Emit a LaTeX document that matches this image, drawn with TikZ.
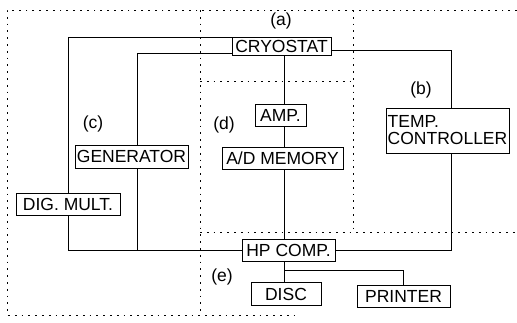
\documentclass[tikz,border=0pt]{standalone}
\usepackage{fontspec}
\setmainfont{Liberation Sans}
\tikzset{
  unit/.style={draw,line width=0.8pt,inner sep=1pt,font=\fontsize{17.5}{17}\selectfont},
  tag/.style={font=\fontsize{17.5}{18}\selectfont},
  frame/.style={line width=0.8pt,dash pattern=on 1.8pt off 5pt},
  wire/.style={line width=0.8pt}
}
\begin{document}
\begin{tikzpicture}[x=1pt,y=-1pt]
  \useasboundingbox (0,0) rectangle (517,322);
  % dotted frames of the sub-systems
  \draw[frame] (517,10) -- (7,10) -- (7,315) -- (300,315);
  \draw[frame] (200,10) -- (200,315);
  \draw[frame] (353,10) -- (353,232);
  \draw[frame] (200,81) -- (353,81);
  \draw[frame] (200,232) -- (517,232);

  % units
  \node[unit,minimum width=99pt,minimum height=18pt] (cryo) at (281.5,46) {CRYOSTAT};
  \node[unit,minimum width=51pt,minimum height=22pt] (amp) at (280.5,115) {AMP.};
  \node[unit,minimum width=121pt,minimum height=22pt] (mem) at (282.5,158) {A/D MEMORY};
  \node[unit,minimum width=113pt,minimum height=23pt] (gen) at (131.5,156.5) {GENERATOR};
  \node[unit,minimum width=104pt,minimum height=22pt] (dig) at (68,204) {DIG. MULT.};
  \node[unit,minimum width=123pt,minimum height=45pt,align=left] (temp) at (447.5,130.5) {TEMP.\\CONTROLLER};
  \node[unit,minimum width=93pt,minimum height=22pt] (hp) at (288.5,250) {HP COMP.};
  \node[unit,minimum width=70pt,minimum height=23pt] (disc) at (286,294) {DISC};
  \node[unit,minimum width=93pt,minimum height=22pt] (printer) at (403.5,296) {PRINTER};

  % labels
  \node[tag] (la) at (281,21) {(a)};
  \node[tag] (lb) at (421,90) {(b)};
  \node[tag] (lc) at (93,124) {(c)};
  \node[tag] (ld) at (224,125) {(d)};
  \node[tag] (le) at (222,277) {(e)};

  % connections
  \coordinate (spine) at (284,0);
  \coordinate (branch) at (284,270);
  \draw[wire] ([yshift=-1pt]cryo.north west) -| (dig.north);
  \draw[wire] ([yshift=2pt]cryo.south west) -| ([xshift=5.5pt]gen.north);
  \draw[wire] ([yshift=-4pt]cryo.east) -| ([xshift=4pt]temp.north);
  \draw[wire] (spine |- cryo.south) -- (spine |- amp.north);
  \draw[wire] (spine |- amp.south) -- (spine |- mem.north);
  \draw[wire] (spine |- mem.south) -- (spine |- hp.north);
  \draw[wire] (dig.south) |- (hp.west);
  \draw[wire] ([xshift=5.5pt]gen.south) -- ([xshift=5.5pt]gen.south |- hp.west);
  \draw[wire] ([xshift=4pt]temp.south) |- (hp.east);
  \draw[wire] (spine |- hp.south) -- (spine |- disc.north);
  \draw[wire] (branch) -| (printer.north);
\end{tikzpicture}
\end{document}
